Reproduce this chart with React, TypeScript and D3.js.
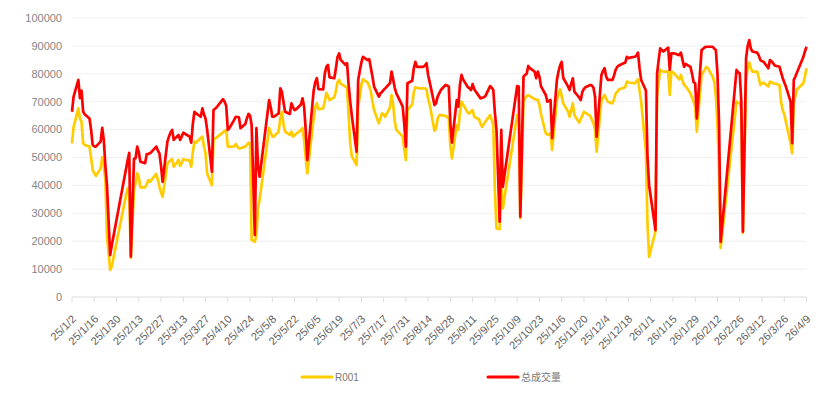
import React from 'react';
import * as d3 from 'd3';

// ---- data ----
const dates: string[] = [
  '25/1/2','25/1/3','25/1/6','25/1/7','25/1/8','25/1/9','25/1/10','25/1/13','25/1/14','25/1/15','25/1/16','25/1/17','25/1/20','25/1/21','25/1/22','25/1/23','25/1/24','25/1/26','25/1/27',
  '25/2/5','25/2/6','25/2/7','25/2/8','25/2/10','25/2/11','25/2/12','25/2/13','25/2/14','25/2/17','25/2/18','25/2/19','25/2/20','25/2/21','25/2/24','25/2/25','25/2/26','25/2/27','25/2/28',
  '25/3/3','25/3/4','25/3/5','25/3/6','25/3/7','25/3/10','25/3/11','25/3/12','25/3/13','25/3/14','25/3/17','25/3/18','25/3/19','25/3/20','25/3/21','25/3/24','25/3/25','25/3/26','25/3/27','25/3/28','25/3/31',
  '25/4/1','25/4/2','25/4/3','25/4/7','25/4/8','25/4/9','25/4/10','25/4/11','25/4/14','25/4/15','25/4/16','25/4/17','25/4/18','25/4/21','25/4/22','25/4/23','25/4/24','25/4/25','25/4/27','25/4/28','25/4/29','25/4/30',
  '25/5/6','25/5/7','25/5/8','25/5/9','25/5/12','25/5/13','25/5/14','25/5/15','25/5/16','25/5/19','25/5/20','25/5/21','25/5/22','25/5/23','25/5/26','25/5/27','25/5/28','25/5/29','25/5/30',
  '25/6/3','25/6/4','25/6/5','25/6/6','25/6/9','25/6/10','25/6/11','25/6/12','25/6/13','25/6/16','25/6/17','25/6/18','25/6/19','25/6/20','25/6/23','25/6/24','25/6/25','25/6/26','25/6/27','25/6/30',
  '25/7/1','25/7/2','25/7/3','25/7/4','25/7/7','25/7/8','25/7/9','25/7/10','25/7/11','25/7/14','25/7/15','25/7/16','25/7/17','25/7/18','25/7/21','25/7/22','25/7/23','25/7/24','25/7/25','25/7/28','25/7/29','25/7/30','25/7/31',
  '25/8/1','25/8/4','25/8/5','25/8/6','25/8/7','25/8/8','25/8/11','25/8/12','25/8/13','25/8/14','25/8/15','25/8/18','25/8/19','25/8/20','25/8/21','25/8/22','25/8/25','25/8/26','25/8/27','25/8/28','25/8/29',
  '25/9/1','25/9/2','25/9/3','25/9/4','25/9/5','25/9/8','25/9/9','25/9/10','25/9/11','25/9/12','25/9/15','25/9/16','25/9/17','25/9/18','25/9/19','25/9/22','25/9/23','25/9/24','25/9/25','25/9/26','25/9/28','25/9/29','25/9/30',
  '25/10/9','25/10/10','25/10/11','25/10/13','25/10/14','25/10/15','25/10/16','25/10/17','25/10/20','25/10/21','25/10/22','25/10/23','25/10/24','25/10/27','25/10/28','25/10/29','25/10/30','25/10/31',
  '25/11/3','25/11/4','25/11/5','25/11/6','25/11/7','25/11/10','25/11/11','25/11/12','25/11/13','25/11/14','25/11/17','25/11/18','25/11/19','25/11/20','25/11/21','25/11/24','25/11/25','25/11/26','25/11/27','25/11/28',
  '25/12/1','25/12/2','25/12/3','25/12/4','25/12/5','25/12/8','25/12/9','25/12/10','25/12/11','25/12/12','25/12/15','25/12/16','25/12/17','25/12/18','25/12/19','25/12/22','25/12/23','25/12/24','25/12/25','25/12/26','25/12/29','25/12/30','25/12/31',
  '26/1/4','26/1/5','26/1/6','26/1/7','26/1/8','26/1/9','26/1/12','26/1/13','26/1/14','26/1/15','26/1/16','26/1/19','26/1/20','26/1/21','26/1/22','26/1/23','26/1/26','26/1/27','26/1/28','26/1/29','26/1/30',
  '26/2/2','26/2/3','26/2/4','26/2/5','26/2/6','26/2/9','26/2/10','26/2/11','26/2/12','26/2/13','26/2/14','26/2/24','26/2/25','26/2/26','26/2/27','26/2/28',
  '26/3/2','26/3/3','26/3/4','26/3/5','26/3/6','26/3/9','26/3/10','26/3/11','26/3/12','26/3/13','26/3/16','26/3/17','26/3/18','26/3/19','26/3/20','26/3/23','26/3/24','26/3/25','26/3/26','26/3/27','26/3/30','26/3/31',
  '26/4/1','26/4/2','26/4/3','26/4/7','26/4/8','26/4/9',
];

const total: number[] = [
  66400,71800,77800,71300,74000,66500,65500,64000,60000,54500,54000,53900,55700,60600,56300,47000,40000,15000,18500,
  46000,49000,51700,14500,49500,49700,53900,52000,48500,48000,51200,51300,51500,52000,53900,52500,51500,47000,41300,
  55700,57500,59000,59900,56300,58100,56300,57500,58900,58500,57500,55300,62000,66400,65800,64600,67600,65500,64000,60000,44900,
  67000,67500,68000,70900,70000,68500,59900,60500,63500,64600,64500,64400,60500,62000,64000,65600,65000,61600,22200,60500,47000,43100,
  70600,68000,64600,64600,65800,74800,73600,70000,66400,65600,69400,68000,67000,67300,69000,71200,68200,60000,49100,
  74000,77000,78400,74500,74400,80000,82500,83200,78700,78400,82000,86000,87300,85000,83200,83800,76000,70000,65000,52100,
  77800,81000,84000,86100,84900,85200,82000,79000,75400,71800,73000,73500,74200,74800,76600,80800,78000,75000,73000,69500,68200,62000,53900,
  76600,77500,82000,84300,82500,82500,82500,83000,83800,79500,77000,68800,69500,71800,73000,74200,76000,75800,75400,62000,55300,
  70600,68200,76000,79600,78000,75200,74800,74200,76300,74500,72000,71200,71400,71600,72000,75600,75000,74200,66000,59900,27000,59900,39500,
  75600,75400,28800,79000,79600,80000,82800,82000,80800,78400,80800,79000,75500,72400,70000,70300,70600,56900,
  77800,80800,83000,84300,78500,75500,74200,76500,78400,73600,71500,70600,73500,74600,75200,76000,75800,75000,71800,57500,
  79600,81000,82000,79000,77800,77800,79500,81500,82500,83000,83800,84000,86100,85600,85800,86100,86500,87600,82000,77800,74000,50000,40000,
  24000,80000,85000,89100,88500,88000,89400,81400,87300,87300,87300,86700,87600,85000,82500,83500,82500,80000,77000,76600,64000,
  88500,89000,89500,89700,89700,89700,89000,88500,80000,62000,19800,81400,80500,80200,70000,23400,
  85600,90000,92100,89000,88000,87600,86500,84900,84500,84300,82000,84900,84500,83800,83000,82500,80500,78500,77000,75500,70000,55100,
  77800,79000,80500,86000,88000,89700,
];

const r001: number[] = [
  55100,61000,67600,64000,62800,55100,54500,53900,50000,45500,44500,43400,46100,50100,47000,42000,22000,9700,10900,
  36500,39000,37000,14000,38400,41000,44300,43000,39300,39300,40500,41900,41300,42000,44100,42000,39500,37500,35900,
  47900,48500,49000,49400,46700,49100,47000,48000,49400,49200,48900,46700,52000,55700,55300,57000,57500,54000,51500,44300,40100,
  56300,56800,57200,59000,59500,59900,53900,53900,54000,54800,54000,53300,53300,53900,54500,55300,55100,20400,19800,22000,32000,34800,
  60500,59000,57500,57500,59300,64000,66400,62000,59300,58100,59300,57500,58000,58500,59800,60500,56300,50000,44300,
  64000,68000,69400,67300,67600,70000,73200,72000,70600,71600,74000,77000,77800,76500,75400,75000,65000,55000,50500,47300,
  68200,72000,76000,78000,76800,75500,73600,70000,67000,62300,64000,65800,65500,64600,68000,72400,69000,63000,59900,58100,57500,53000,49100,
  67000,69000,73500,75200,75000,74800,74800,74800,74400,71000,69000,59600,60500,64000,65200,65200,64900,64500,64000,54000,49700,
  61600,59900,66000,70000,69000,66000,65800,66500,67000,64600,63700,62000,61000,62000,62800,65200,63500,61600,38000,24600,24300,39500,31800,
  65200,63400,28200,70000,71200,72000,72400,72000,70900,70800,70600,69000,65500,58700,58100,58300,58700,52700,
  70600,72500,74400,72000,69400,66500,64600,67000,69400,65200,62500,63800,65000,66400,66000,64900,63500,62300,60000,52100,
  70600,71500,72400,71000,70000,69400,71000,73000,73600,74400,75000,75200,77200,77000,76800,76600,77300,78000,74000,70000,52000,26000,14400,
  23500,72000,77000,81400,81000,80800,80800,72400,80800,80500,80000,78000,79600,77500,76000,75500,73000,71500,70000,68000,59300,
  79600,80500,81500,82500,82000,78900,77000,72000,62000,45000,17600,70000,69600,69400,67000,23000,
  77800,82000,84000,82000,80800,80800,78500,76000,76500,76800,75500,77200,77000,76600,76500,76000,70000,67000,65500,63000,55000,51500,
  69400,72000,74400,76600,79000,82000,
];

const xTickLabels: string[] = [
  '25/1/2','25/1/16','25/1/30','25/2/13','25/2/27','25/3/13','25/3/27','25/4/10','25/4/24','25/5/8','25/5/22','25/6/5','25/6/19','25/7/3','25/7/17','25/7/31','25/8/14','25/8/28','25/9/11','25/9/25','25/10/9','25/10/23','25/11/6','25/11/20','25/12/4','25/12/18','26/1/1','26/1/15','26/1/29','26/2/12','26/2/26','26/3/12','26/3/26','26/4/9',
];
const yTicks: number[] = [0, 10000, 20000, 30000, 40000, 50000, 60000, 70000, 80000, 90000, 100000];
const seriesNames: string[] = ['R001', '总成交量'];
const seriesColors: string[] = ['#FFCC00', '#FF0000'];

function parseDate(s: string): Date {
  const [y, m, d] = s.split('/').map(Number);
  return new Date(Date.UTC(2000 + y, m - 1, d));
}

const W = 830;
const H = 396;
const M = { left: 72, right: 806.5, top: 18, bottom: 297 };
const FONT = '"Liberation Sans", Arial, "Noto Sans CJK SC", sans-serif';

export default function App() {
  const x = d3
    .scaleUtc()
    .domain([parseDate(xTickLabels[0]), parseDate(xTickLabels[xTickLabels.length - 1])])
    .range([M.left, M.right]);
  const y = d3.scaleLinear().domain([0, 100000]).range([M.bottom, M.top]);

  const pts = dates.map((d, i) => ({ t: parseDate(d), a: r001[i], b: total[i] }));
  const lineA = d3
    .line<{ t: Date; a: number; b: number }>()
    .x((p) => x(p.t))
    .y((p) => y(p.a));
  const lineB = d3
    .line<{ t: Date; a: number; b: number }>()
    .x((p) => x(p.t))
    .y((p) => y(p.b));

  const legendY = 377;
  const legendItems = [
    { x0: 302, name: seriesNames[0], color: seriesColors[0] },
    { x0: 488, name: seriesNames[1], color: seriesColors[1] },
  ];

  return (
    <svg
      width={W}
      height={H}
      style={{ position: 'absolute', left: 0, top: 0, background: '#fff' }}
      fontFamily={FONT}
    >
      {/* grid */}
      {yTicks.map((v) => (
        <line key={'g' + v} x1={M.left} x2={M.right} y1={y(v)} y2={y(v)} stroke={v === 0 ? '#dcdcdc' : '#efefef'} strokeWidth={1} />
      ))}
      {yTicks.map((v) => (
        <text key={'yl' + v} x={62} y={y(v)} dy="0.35em" textAnchor="end" fontSize={11} fill="#858585">
          {v}
        </text>
      ))}
      {/* x ticks & labels */}
      {xTickLabels.map((s) => {
        const px = x(parseDate(s));
        return (
          <g key={'xt' + s}>
            <line x1={px} x2={px} y1={M.bottom} y2={M.bottom + 5} stroke="#dcdcdc" strokeWidth={1} />
            <text
              transform={`translate(${px + 2},${M.bottom + 20}) rotate(-45)`}
              textAnchor="end"
              dy="0.35em"
              fontSize={11}
              fill="#606060"
            >
              {s}
            </text>
          </g>
        );
      })}
      {/* series */}
      <path d={lineA(pts) || ''} fill="none" stroke={seriesColors[0]} strokeWidth={2.7} strokeLinejoin="round" />
      <path d={lineB(pts) || ''} fill="none" stroke={seriesColors[1]} strokeWidth={2.7} strokeLinejoin="round" />
      {/* legend */}
      {legendItems.map((it) => (
        <g key={it.name}>
          <line x1={it.x0} x2={it.x0 + 30} y1={legendY} y2={legendY} stroke={it.color} strokeWidth={3} strokeLinecap="round" />
          <text x={it.x0 + 33} y={legendY} dy="0.35em" fontSize={10} fill="#777">
            {it.name}
          </text>
        </g>
      ))}
    </svg>
  );
}
